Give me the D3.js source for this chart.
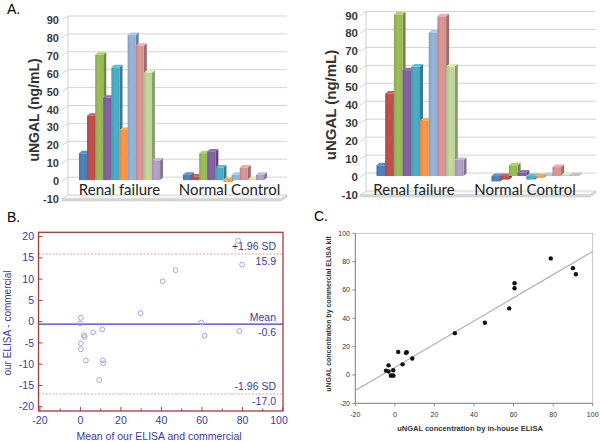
<!DOCTYPE html>
<html><head><meta charset="utf-8">
<script src="https://cdn.jsdelivr.net/npm/d3@7/dist/d3.min.js"></script>
<style>body{margin:0;background:#fff}svg{display:block}</style>
</head><body>
<svg id="c" width="600" height="442"></svg>
<script>
// ---------- DATA ----------
const categories = ['Renal failure', 'Normal Control'];
const patients = ['P1','P2','P3','P4','P5','P6','P7','P8','P9','P10'];
// Panel A left: commercial ELISA kit
const commercialRenal  = [15, 36, 70, 46, 63, 28, 81, 75, 60, 11];
const commercialNormal = [3, 2, 15, 16, 7, -1, 3, 7, 0.4, 3];
// Panel A right: in-house ELISA
const inhouseRenal  = [6, 46, 90, 59, 61, 31, 80, 89, 61, 9];
const inhouseNormal = [-3, -2, 6, 2, -2, -1, 0.4, 5, 0.5, 0.4];
const barTicks = [-10, 0, 10, 20, 30, 40, 50, 60, 70, 80, 90];
const barColors = ['#4F81BD','#C0504D','#9BBB59','#8064A2','#4BACC6','#F79646','#95B3D7','#D99694','#C3D69B','#B3A2C7'];

// Panel B: Bland-Altman
const baMean = [77.9, 79.8, 78.4, 59.7, 61.3, 47.0, 40.6, 29.7, 10.8, 6.3, 1.7, 2.1, 0.2, -0.2, 0.2, 0.2, 2.7, 11.0, 11.3, 9.3];
const baDiff = [19.0, 13.4, -2.2, -0.2, -3.3, 12.1, 9.5, 2.0, -1.8, -2.5, -3.2, -3.6, 0.9, -0.4, -5.1, -6.5, -9.1, -9.1, -9.8, -13.7];
const baLimits = [15.9, -0.6, -17.0];
const baLimitNames = ['+1.96 SD', 'Mean', '-1.96 SD'];
const baLimitText = ['15.9', '-0.6', '-17.0'];
const baXTicks = [-20, 0, 20, 40, 60, 80, 100];
const baYTicks = [20, 15, 10, 5, 0, -5, -10, -15, -20];

// Panel C: scatter
const scInhouse    = [78.8, 90.0, 91.5, 60.5, 60.5, 57.8, 45.5, 30.3, 1.7, 5.6, 6.0, 8.8, 3.9, -3.2, -4.5, -3.2, -0.8, -2.0, -0.7, -1.5];
const scCommercial = [82.3, 75.4, 71.1, 64.7, 61.2, 47.0, 36.9, 29.5, 16.3, 15.6, 16.0, 11.6, 7.5, 6.8, 3.1, 2.4, 3.3, -0.5, -0.5, -0.3];
const scFitX = [-20, 100];
const scFitY = [-10.9, 87.2];
const scTicks = [-20, 0, 20, 40, 60, 80, 100];

// ---------- DRAW ----------
const svg = d3.select('#c');
const AR = 'Liberation Sans, Arial, sans-serif';

svg.append('text').attr('x', 7).attr('y', 14).attr('font-family', AR).attr('font-size', 14).text('A.');
svg.append('text').attr('x', 7).attr('y', 222).attr('font-family', AR).attr('font-size', 14).text('B.');
svg.append('text').attr('x', 314).attr('y', 221).attr('font-family', AR).attr('font-size', 14).text('C.');

function panelA(cfg, renal, normal) {
  const g = svg.append('g');
  const y = d3.scaleLinear().domain([-10, 90]).range([cfg.yBottom, cfg.yTop]);
  const x0 = d3.scaleBand().domain(categories).range(cfg.xRange).paddingInner(cfg.pi).paddingOuter(cfg.po);
  const x1 = d3.scaleBand().domain(d3.range(patients.length)).range([0, x0.bandwidth()]);
  const dxw = 6, dyw = -4;
  const fl = cfg.frontL, br = cfg.backR;
  const yf = y(-10);
  // floor slab
  g.append('polygon')
    .attr('points', [[fl, yf], [fl + dxw, yf + dyw], [br, yf + dyw], [br - dxw, yf]].map(p => p.join(',')).join(' '))
    .attr('fill', '#f7f7f7').attr('stroke', '#c8c8c8').attr('stroke-width', 0.8);
  g.append('polygon')
    .attr('points', [[fl, yf], [br - dxw, yf], [br, yf + dyw], [br, yf + dyw + 2], [br - dxw, yf + 2], [fl, yf + 2]].map(p => p.join(',')).join(' '))
    .attr('fill', '#dcdcdc').attr('stroke', '#c8c8c8').attr('stroke-width', 0.6);
  // gridlines on back & side wall
  barTicks.filter(t => t > -10).forEach(t => {
    g.append('line').attr('x1', fl + dxw).attr('x2', br).attr('y1', y(t) + dyw).attr('y2', y(t) + dyw)
      .attr('stroke', '#d4d4d4').attr('stroke-width', 1);
    g.append('line').attr('x1', fl).attr('x2', fl + dxw).attr('y1', y(t)).attr('y2', y(t) + dyw)
      .attr('stroke', '#d4d4d4').attr('stroke-width', 1);
  });
  g.append('line').attr('x1', fl + dxw).attr('x2', fl + dxw).attr('y1', y(90) + dyw).attr('y2', yf + dyw)
    .attr('stroke', '#d0d0d0').attr('stroke-width', 1);
  // tick labels
  barTicks.forEach(t => {
    g.append('text').attr('x', cfg.labelX).attr('y', y(t) + 4).attr('text-anchor', 'end')
      .attr('font-family', AR).attr('font-weight', 'bold').attr('font-size', cfg.tickFs).attr('fill', '#3a3a3a').text(t);
  });
  // y title
  g.append('text').attr('transform', `translate(${cfg.titleX},${cfg.titleY}) rotate(-90)`)
    .attr('text-anchor', 'middle').attr('font-family', AR).attr('font-weight', 'bold')
    .attr('font-size', cfg.titleFs).attr('fill', '#333').text('uNGAL (ng/mL)');
  // bars
  const dxb = 3, dyb = -2.5;
  [renal, normal].forEach((vals, ci) => {
    const cat = categories[ci];
    vals.forEach((v, i) => {
      const c = barColors[i];
      const xl = x0(cat) + x1(i), w = x1.bandwidth();
      const ya = y(Math.max(v, 0)) - 1, yb = y(Math.min(v, 0)) - 1;
      const side = d3.color(c).darker(0.9).formatHex();
      const top = d3.color(c).brighter(0.35).formatHex();
      g.append('polygon').attr('points', [[xl + w, ya], [xl + w + dxb, ya + dyb], [xl + w + dxb, yb + dyb], [xl + w, yb]].map(p => p.join(',')).join(' '))
        .attr('fill', side);
      g.append('polygon').attr('points', [[xl, ya], [xl + dxb, ya + dyb], [xl + w + dxb, ya + dyb], [xl + w, ya]].map(p => p.join(',')).join(' '))
        .attr('fill', top);
      g.append('rect').attr('x', xl).attr('y', ya).attr('width', w).attr('height', Math.max(yb - ya, 0.5))
        .attr('fill', `url(#grad${i})`);
    });
  });
  // category labels
  categories.forEach((cat, ci) => {
    g.append('text').attr('x', x0(cat) + x0.bandwidth() / 2 + cfg.labelDx[ci]).attr('y', cfg.catY)
      .attr('text-anchor', 'middle').attr('font-family', 'Lato, Open Sans, sans-serif')
      .attr('font-size', cfg.catFs).attr('fill', '#222').text(cat);
  });
}

// gradients for bar fronts
const defs = svg.append('defs');
barColors.forEach((c, i) => {
  const lg = defs.append('linearGradient').attr('id', 'grad' + i).attr('x1', 0).attr('x2', 1).attr('y1', 0).attr('y2', 0);
  lg.append('stop').attr('offset', '0%').attr('stop-color', d3.color(c).darker(0.3).formatHex());
  lg.append('stop').attr('offset', '45%').attr('stop-color', d3.color(c).brighter(0.05).formatHex());
  lg.append('stop').attr('offset', '100%').attr('stop-color', d3.color(c).darker(0.1).formatHex());
});

panelA({yBottom: 199, yTop: 20, xRange: [62, 281], pi: 0.22, po: 0.163, frontL: 62, backR: 287,
        labelX: 59, tickFs: 11, titleX: 39, titleY: 110, titleFs: 14, catY: 195, catFs: 15, labelDx: [0, 6]},
       commercialRenal, commercialNormal);
panelA({yBottom: 195, yTop: 15.5, xRange: [362, 593], pi: 0.243, po: 0.126, frontL: 360, backR: 596,
        labelX: 358, tickFs: 11.5, titleX: 336, titleY: 105, titleFs: 15, catY: 195, catFs: 15, labelDx: [-6, -10]},
       inhouseRenal, inhouseNormal);

// ---------- Panel B ----------
(function () {
  const g = svg.append('g');
  const blue = '#3a3aa6', red = '#a83a3a';
  const L = 38.5, R = 283, T = 232.3, B = 411;
  const x = d3.scaleLinear().domain([-20.7, 100]).range([L, R]);
  const y = d3.scaleLinear().domain([-21, 21]).range([B, T]);
  // limit lines
  baLimits.forEach((v, i) => {
    g.append('line').attr('x1', L).attr('x2', R).attr('y1', y(v)).attr('y2', y(v))
      .attr('stroke', i === 1 ? '#3b3bc8' : '#e8a0a0').attr('stroke-width', i === 1 ? 1.3 : 1)
      .attr('stroke-dasharray', i === 1 ? null : '2,1.5');
    g.append('text').attr('x', 276).attr('y', y(v) - 3.5).attr('text-anchor', 'end')
      .attr('font-family', AR).attr('font-size', 10.5).attr('fill', blue).text(baLimitNames[i]);
    g.append('text').attr('x', 276).attr('y', y(v) + 11.5).attr('text-anchor', 'end')
      .attr('font-family', AR).attr('font-size', 10.5).attr('fill', blue).text(baLimitText[i]);
  });
  // points
  g.selectAll('circle.b').data(baMean).join('circle').attr('class', 'b')
    .attr('cx', (d, i) => x(d)).attr('cy', (d, i) => y(baDiff[i])).attr('r', 2.4)
    .attr('fill', 'none').attr('stroke', '#a4a4e4').attr('stroke-width', 1);
  // frame
  g.append('rect').attr('x', L).attr('y', T).attr('width', R - L).attr('height', B - T)
    .attr('fill', 'none').attr('stroke', red).attr('stroke-width', 1.3);
  // y ticks
  baYTicks.forEach(t => {
    g.append('line').attr('x1', L).attr('x2', L + 4).attr('y1', y(t)).attr('y2', y(t)).attr('stroke', red).attr('stroke-width', 1);
    g.append('text').attr('x', 34).attr('y', y(t) + 3.6).attr('text-anchor', 'end')
      .attr('font-family', AR).attr('font-size', 10.5).attr('fill', blue).text(t);
  });
  d3.range(-20, 101, 10).forEach(t => {
    const major = baXTicks.includes(t);
    g.append('line').attr('x1', x(t)).attr('x2', x(t)).attr('y1', B).attr('y2', B - (major ? 4 : 2.5)).attr('stroke', red).attr('stroke-width', 1);
  });
  baXTicks.forEach(t => {
    g.append('text').attr('x', Math.min(x(t), 279)).attr('y', 424).attr('text-anchor', 'middle')
      .attr('font-family', AR).attr('font-size', 10.5).attr('fill', blue).text(t);
  });
  g.append('text').attr('x', 159).attr('y', 440).attr('text-anchor', 'middle')
    .attr('font-family', AR).attr('font-size', 10.5).attr('fill', blue).text('Mean of our ELISA and commercial');
  g.append('text').attr('transform', 'translate(11,323) rotate(-90)').attr('text-anchor', 'middle')
    .attr('font-family', AR).attr('font-size', 10).attr('fill', blue).text('our ELISA - commercial');
})();

// ---------- Panel C ----------
(function () {
  const g = svg.append('g');
  const L = 355.3, R = 592.7, T = 233.3, B = 403.3;
  const x = d3.scaleLinear().domain([-20, 100]).range([L, R]);
  const y = d3.scaleLinear().domain([-20, 100]).range([B, T]);
  g.append('rect').attr('x', L).attr('y', T).attr('width', R - L).attr('height', B - T)
    .attr('fill', 'none').attr('stroke', '#b8b8b8').attr('stroke-width', 0.8);
  g.append('line').attr('x1', L).attr('x2', L).attr('y1', T).attr('y2', B).attr('stroke', '#777').attr('stroke-width', 0.8);
  g.append('line').attr('x1', L).attr('x2', R).attr('y1', B).attr('y2', B).attr('stroke', '#777').attr('stroke-width', 0.8);
  scTicks.forEach(t => {
    g.append('line').attr('x1', L - 3).attr('x2', L).attr('y1', y(t)).attr('y2', y(t)).attr('stroke', '#777').attr('stroke-width', 0.8);
    g.append('line').attr('x1', x(t)).attr('x2', x(t)).attr('y1', B).attr('y2', B + 3).attr('stroke', '#777').attr('stroke-width', 0.8);
    g.append('text').attr('x', 350).attr('y', y(t) + 2.4).attr('text-anchor', 'end')
      .attr('font-family', AR).attr('font-size', 7).attr('fill', '#333').text(t);
    g.append('text').attr('x', x(t)).attr('y', 416.5).attr('text-anchor', 'middle')
      .attr('font-family', AR).attr('font-size', 7).attr('fill', '#333').text(t);
  });
  g.append('line').attr('x1', x(scFitX[0])).attr('x2', x(scFitX[1])).attr('y1', y(scFitY[0])).attr('y2', y(scFitY[1]))
    .attr('stroke', '#b0b0b0').attr('stroke-width', 1.2);
  g.selectAll('circle.c').data(scInhouse).join('circle').attr('class', 'c')
    .attr('cx', d => x(d)).attr('cy', (d, i) => y(scCommercial[i])).attr('r', 2.2).attr('fill', '#111');
  g.append('text').attr('x', 470).attr('y', 430.5).attr('text-anchor', 'middle')
    .attr('font-family', AR).attr('font-weight', 'bold').attr('font-size', 7.5).attr('fill', '#333')
    .text('uNGAL concentration by in-house ELISA');
  g.append('text').attr('transform', 'translate(331,314) rotate(-90)').attr('text-anchor', 'middle')
    .attr('font-family', AR).attr('font-weight', 'bold').attr('font-size', 7).attr('fill', '#333')
    .text('uNGAL concentration by commercial ELISA kit');
})();
</script>
</body></html>
